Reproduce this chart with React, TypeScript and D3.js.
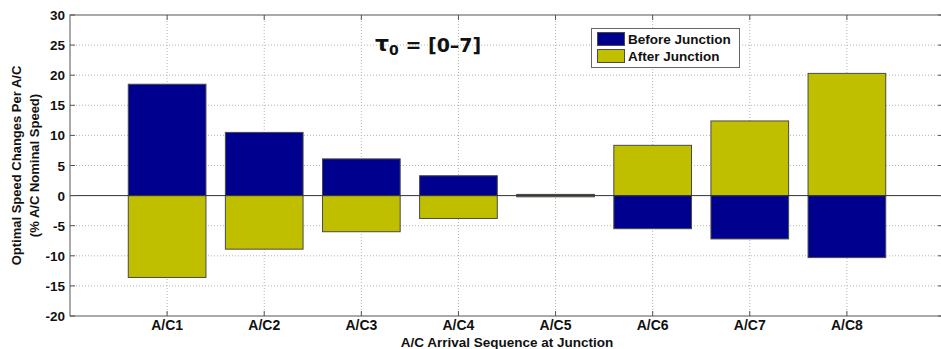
import React from "react";
import * as d3 from "d3";

const categories = ["A/C1", "A/C2", "A/C3", "A/C4", "A/C5", "A/C6", "A/C7", "A/C8"];
const beforeJunction = [18.5, 10.5, 6.1, 3.3, 0.2, -5.5, -7.2, -10.3];
const afterJunction = [-13.6, -8.9, -6.0, -3.8, -0.2, 8.35, 12.4, 20.3];
const yTicks = [-20, -15, -10, -5, 0, 5, 10, 15, 20, 25, 30];
const seriesNames = ["Before Junction", "After Junction"];

const W = 941;
const H = 349;
const BLUE = "#00008f";
const YELLOW = "#bfbf00";
const EDGE = "#4a4a4a";
const AXIS = "#555";
const FONT = "'Liberation Sans', Arial, sans-serif";

export default function App() {
  const x = d3.scaleLinear().domain([0, categories.length + 1]).range([70, 944]);
  const y = d3.scaleLinear().domain([-20, 30]).range([316, 15]);
  const bw = 0.8;
  const left = x(0), right = x(categories.length + 1), top = y(30), bottom = y(-20);

  const rect = (i: number, v: number, color: string, key: string) => {
    const x0 = x(i + 1 - bw / 2);
    const x1 = x(i + 1 + bw / 2);
    const ya = y(Math.max(0, v));
    const yb = y(Math.min(0, v));
    return (
      <rect key={key} x={x0} y={ya} width={x1 - x0} height={Math.max(yb - ya, 0.5)}
        fill={color} stroke={EDGE} strokeWidth={1} />
    );
  };

  return (
    <svg width={W} height={H} style={{ position: "absolute", left: 0, top: 0, background: "#fff" }}
      fontFamily={FONT}>
      {/* grid */}
      <g stroke="#b5b5b5" strokeWidth={1} strokeDasharray="1,2">
        {yTicks.filter(t => t !== 0 && t !== 30 && t !== -20).map(t => (
          <line key={"gy" + t} x1={left} x2={right} y1={y(t)} y2={y(t)} />
        ))}
        {categories.map((c, i) => (
          <line key={"gx" + c} x1={x(i + 1)} x2={x(i + 1)} y1={top} y2={bottom} />
        ))}
      </g>
      {/* bars */}
      {categories.map((c, i) => (
        <g key={c}>
          {rect(i, beforeJunction[i], BLUE, "b" + i)}
          {rect(i, afterJunction[i], YELLOW, "a" + i)}
        </g>
      ))}
      {/* zero line */}
      <line x1={left} x2={right} y1={y(0)} y2={y(0)} stroke="#333" strokeWidth={1} />
      {/* axes box */}
      <rect x={left} y={top} width={right - left} height={bottom - top} fill="none" stroke={AXIS} strokeWidth={1} />
      {/* ticks */}
      <g stroke={AXIS} strokeWidth={1}>
        {yTicks.map(t => (
          <g key={"ty" + t}>
            <line x1={left} x2={left + 5} y1={y(t)} y2={y(t)} />
            <line x1={right - 6} x2={right} y1={y(t)} y2={y(t)} />
          </g>
        ))}
        {categories.map((c, i) => (
          <g key={"tx" + c}>
            <line x1={x(i + 1)} x2={x(i + 1)} y1={bottom} y2={bottom - 5} />
            <line x1={x(i + 1)} x2={x(i + 1)} y1={top} y2={top + 5} />
          </g>
        ))}
      </g>
      {/* y tick labels */}
      <g fontSize={13.5} fontWeight="bold" textAnchor="end" fill="#111">
        {yTicks.map(t => (
          <text key={"ly" + t} x={left - 5} y={y(t) + 5}>{t}</text>
        ))}
      </g>
      {/* x tick labels */}
      <g fontSize={14} fontWeight="bold" textAnchor="middle" fill="#111">
        {categories.map((c, i) => (
          <text key={"lx" + c} x={x(i + 1)} y={330}>{c}</text>
        ))}
      </g>
      <text x={507} y={346.5} fontSize={13.5} fontWeight="bold" textAnchor="middle" fill="#111">
        A/C Arrival Sequence at Junction
      </text>
      {/* y label */}
      <g fontSize={13} fontWeight="bold" textAnchor="middle" fill="#111">
        <text transform={`translate(21,${(top + bottom) / 2}) rotate(-90)`}>Optimal Speed Changes Per A/C</text>
        <text transform={`translate(39,${(top + bottom) / 2}) rotate(-90)`}>(% A/C Nominal Speed)</text>
      </g>
      {/* title */}
      <text x={375} y={51} fontFamily="'DejaVu Sans', sans-serif" fontWeight="bold" fill="#111">
        <tspan fontSize={22}>τ</tspan>
        <tspan fontSize={14} dy={4}>0</tspan>
        <tspan fontSize={19} dy={-3}> = [0–7]</tspan>
      </text>
      {/* legend */}
      <g>
        <rect x={591.5} y={28.5} width={148} height={39} fill="#fff" stroke="#666" strokeWidth={1} />
        {seriesNames.map((s, i) => (
          <g key={s}>
            <rect x={597.5} y={32.5 + i * 17} width={27} height={13} fill={i === 0 ? BLUE : YELLOW} stroke={EDGE} />
            <text x={628} y={44 + i * 17} fontSize={13.5} fontWeight="bold" fill="#111">{s}</text>
          </g>
        ))}
      </g>
    </svg>
  );
}
